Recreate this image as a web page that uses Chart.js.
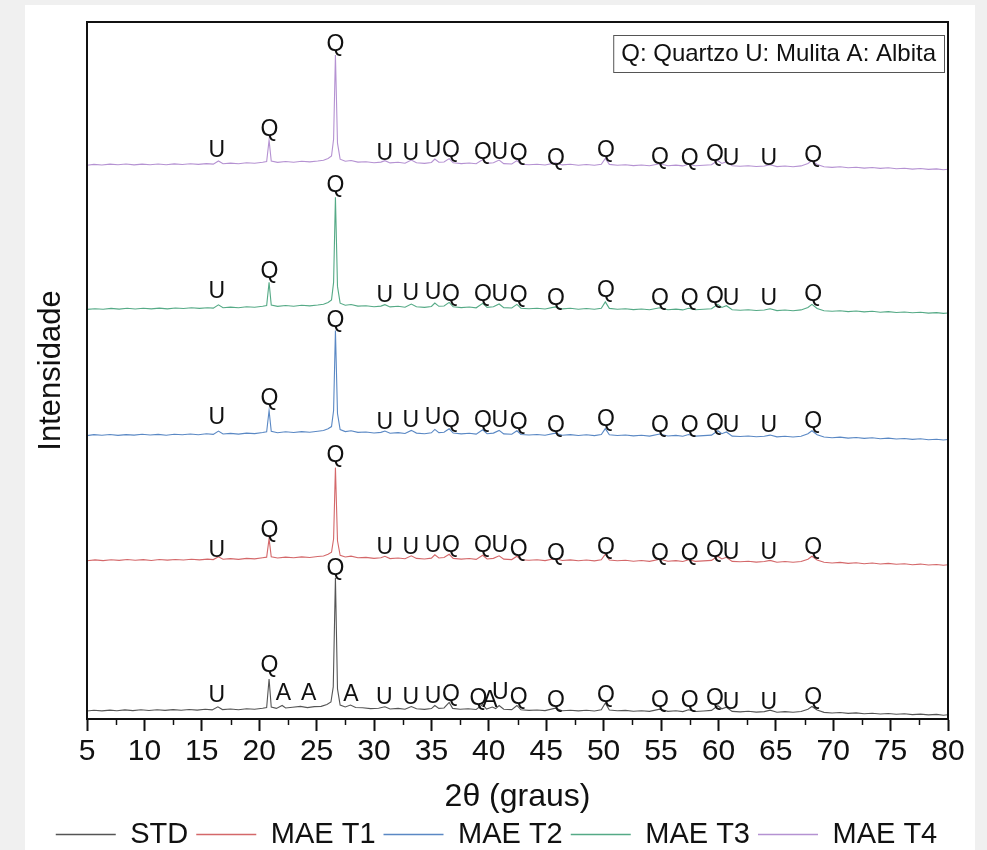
<!DOCTYPE html>
<html>
<head>
<meta charset="utf-8">
<script src="https://cdn.jsdelivr.net/npm/chart.js@4.4.1/dist/chart.umd.min.js"></script>
<style>
  html,body{margin:0;padding:0;background:#f0f0f0;}
  #wrap{position:absolute;left:25px;top:5px;width:950px;height:845px;background:#fff;}
  #xrd{display:block;}
</style>
</head>
<body>
<div id="wrap"><canvas id="xrd" width="950" height="845"></canvas></div>
<script>
/* ── series names / colours ── */
const NAMES  = ['STD','MAE T1','MAE T2','MAE T3','MAE T4'];
const COLORS = ['#555555','#d4686a','#5a88c4','#55aa86','#b592d2'];
const OFFSETS = [8, 158, 283, 409, 553];   // vertical stacking of the patterns

/* ── patterns: [2θ, intensity above own baseline] ── */
const STD = [
[5,0],[5.6,0.8],[6.3,0.1],[7,0.9],[7.6,0.3],[8.3,1.1],[9,0.4],[9.7,1.2],[10.4,0.5],[11.1,1.3],[11.8,0.6],[12.5,1.4],[13.2,0.8],[13.9,1.5],[14.6,0.9],[15.3,1.7],[15.9,1.1],[16.4,4.2],[16.8,1.4],[17.5,2],[18.2,1.3],[18.9,2.3],[19.6,1.8],[20.3,2.8],[20.65,3.5],[20.86,32],[21.05,4],[21.5,2.6],[22.0,5.5],[22.3,3],[22.9,3.8],[23.6,4.6],[24.2,3.4],[24.8,4.4],[25.4,4.6],[25.9,6.5],[26.25,9],[26.45,24],[26.64,133],[26.82,22],[27.05,6],[27.5,4],[27.95,6],[28.4,3.5],[29,3.2],[29.7,2.4],[30.4,2.8],[30.95,4.2],[31.4,2],[32.1,2.6],[32.7,1.8],[33.25,4.5],[33.7,2.2],[34.4,1.6],[35.0,2.4],[35.3,5.5],[35.65,2.6],[36.1,3],[36.55,8.5],[36.85,2.6],[37.5,1.8],[38.2,2.2],[38.9,1.5],[39.47,6.5],[39.8,2],[40.3,4],[40.6,2.4],[40.9,5.5],[41.3,1.8],[42,1.4],[42.45,5.5],[42.8,1.2],[43.5,0.6],[44.2,1],[44.9,0.4],[45.8,2.8],[46.4,0.3],[47.1,0.8],[47.8,0.1],[48.5,0.7],[49.2,0],[49.8,1.2],[50.15,8],[50.5,1],[51.2,0.2],[51.9,0.6],[52.6,-0.3],[53.3,0.3],[54,-0.4],[54.9,1.8],[55.6,-0.4],[56.3,0.2],[56.9,-0.6],[57.4,1.2],[58,-0.5],[58.7,0],[59.4,0.6],[59.95,5.2],[60.3,2.2],[60.7,3.8],[61.2,-0.4],[61.9,-0.9],[62.6,-0.3],[63.3,-1.1],[64,-0.6],[64.5,0.8],[65.1,-1.2],[65.8,-0.6],[66.5,-1.3],[67.2,-0.5],[67.8,1.8],[68.15,4.5],[68.6,1],[69.2,-1.4],[69.9,-2],[70.6,-1.5],[71.3,-2.4],[72,-1.9],[72.7,-2.7],[73.4,-2.2],[74.1,-3],[74.8,-2.5],[75.5,-3.3],[76.2,-2.8],[76.9,-3.6],[77.6,-3.1],[78.3,-3.9],[79,-3.4],[79.6,-4.2],[80,-3.8]
];
const MAE_T1 = [
[5,0],[5.7,0.9],[6.4,0.2],[7.1,1],[7.8,0.4],[8.5,1.2],[9.2,0.5],[9.9,1.1],[10.6,0.3],[11.3,1.2],[12,0.6],[12.7,1.3],[13.4,0.7],[14.1,1.5],[14.8,0.9],[15.5,1.6],[16,1.2],[16.45,4],[16.85,1.5],[17.5,2.1],[18.2,1.4],[18.9,2.4],[19.6,1.9],[20.3,3],[20.65,3.6],[20.86,22],[21.05,4],[21.6,2.8],[22.3,3.6],[23,3],[23.7,3.9],[24.4,3.3],[25.1,4.2],[25.6,4.8],[26.0,6.5],[26.3,8.5],[26.48,22],[26.64,93],[26.82,20],[27.05,5.5],[27.5,3.8],[28,4.6],[28.6,3],[29.3,3.4],[30,2.4],[30.6,3],[30.95,4.5],[31.4,2.2],[32.1,2.8],[32.7,2],[33.25,5],[33.7,2.4],[34.4,1.8],[35,2.6],[35.3,6],[35.65,2.8],[36.1,3.2],[36.55,6.5],[36.9,2.4],[37.6,1.6],[38.3,2.2],[38.9,1.4],[39.47,5.5],[39.85,1.8],[40.4,2.4],[40.9,5],[41.3,1.6],[42,1.2],[42.45,4.5],[42.8,1],[43.5,0.5],[44.2,1],[44.9,0.2],[45.8,2.2],[46.4,0.3],[47.1,0.9],[47.8,0],[48.5,0.7],[49.2,-0.1],[49.8,1],[50.15,6.5],[50.5,0.8],[51.2,0],[51.9,0.5],[52.6,-0.4],[53.3,0.2],[54,-0.6],[54.9,1.5],[55.6,-0.5],[56.3,0.1],[56.9,-0.7],[57.4,1],[58,-0.6],[58.7,-0.1],[59.4,0.4],[59.95,4.5],[60.3,1.8],[60.7,3.5],[61.2,-0.6],[61.9,-1],[62.6,-0.5],[63.3,-1.3],[64,-0.8],[64.5,0.4],[65.1,-1.4],[65.8,-0.8],[66.5,-1.5],[67.2,-0.7],[67.8,1.6],[68.15,4.5],[68.6,0.8],[69.2,-1.5],[69.9,-2.2],[70.6,-1.6],[71.3,-2.6],[72,-2],[72.7,-2.9],[73.4,-2.3],[74.1,-3.2],[74.8,-2.6],[75.5,-3.5],[76.2,-3],[76.9,-3.9],[77.6,-3.3],[78.3,-4.2],[79,-3.7],[79.6,-4.5],[80,-4]
];
const MAE_T2 = [
[5,0],[5.6,1],[6.3,0.3],[7,1.1],[7.7,0.2],[8.4,1],[9.1,0.5],[9.8,1.3],[10.5,0.6],[11.2,1.2],[11.9,0.4],[12.6,1.4],[13.3,0.8],[14,1.6],[14.7,0.9],[15.4,1.8],[16,1.2],[16.45,4.5],[16.85,1.6],[17.5,2.2],[18.2,1.5],[18.9,2.5],[19.6,2],[20.3,3.1],[20.65,3.8],[20.86,25],[21.05,4.2],[21.6,2.9],[22.3,3.8],[23,3.1],[23.7,4],[24.4,3.4],[25.1,4.3],[25.6,5],[26.0,6.8],[26.3,9],[26.48,25],[26.64,105],[26.82,22],[27.05,6],[27.5,4],[28,4.8],[28.6,3.2],[29.3,3.6],[30,2.6],[30.6,3.2],[30.95,4.6],[31.4,2.4],[32.1,3],[32.7,2.1],[33.25,5.2],[33.7,2.5],[34.4,1.9],[35,2.8],[35.3,6.2],[35.65,3],[36.1,3.3],[36.55,6.8],[36.9,2.5],[37.6,1.7],[38.3,2.3],[38.9,1.5],[39.47,5.8],[39.85,1.9],[40.4,2.5],[40.9,5.2],[41.3,1.7],[42,1.3],[42.45,4.8],[42.8,1.1],[43.5,0.6],[44.2,1.1],[44.9,0.3],[45.8,2.4],[46.4,0.4],[47.1,1],[47.8,0.1],[48.5,0.8],[49.2,0],[49.8,1.1],[50.15,7],[50.5,0.9],[51.2,0.1],[51.9,0.6],[52.6,-0.3],[53.3,0.3],[54,-0.5],[54.9,1.6],[55.6,-0.4],[56.3,0.2],[56.9,-0.6],[57.4,1.1],[58,-0.5],[58.7,0],[59.4,0.5],[59.95,4.8],[60.3,1.9],[60.7,3.6],[61.2,-0.5],[61.9,-0.9],[62.6,-0.4],[63.3,-1.2],[64,-0.7],[64.5,0.5],[65.1,-1.3],[65.8,-0.7],[66.5,-1.4],[67.2,-0.6],[67.8,1.8],[68.15,4.8],[68.6,0.9],[69.2,-1.4],[69.9,-2.1],[70.6,-1.5],[71.3,-2.5],[72,-1.9],[72.7,-2.8],[73.4,-2.2],[74.1,-3.1],[74.8,-2.5],[75.5,-3.4],[76.2,-2.9],[76.9,-3.8],[77.6,-3.2],[78.3,-4.1],[79,-3.6],[79.6,-4.4],[80,-3.9]
];
const MAE_T3 = [
[5,0],[5.7,0.7],[6.4,0.1],[7.1,1],[7.8,0.3],[8.5,1.1],[9.2,0.4],[9.9,1.2],[10.6,0.5],[11.3,1.3],[12,0.5],[12.7,1.4],[13.4,0.9],[14.1,1.6],[14.8,1],[15.5,1.7],[16,1.3],[16.45,4.6],[16.85,1.7],[17.5,2.3],[18.2,1.6],[18.9,2.6],[19.6,2.1],[20.3,3.2],[20.65,3.9],[20.86,27],[21.05,4.3],[21.6,3],[22.3,3.9],[23,3.2],[23.7,4.1],[24.4,3.5],[25.1,4.4],[25.6,5.2],[26.0,7],[26.3,9.5],[26.48,27],[26.64,112],[26.82,23],[27.05,6.2],[27.5,4.1],[28,4.9],[28.6,3.3],[29.3,3.7],[30,2.7],[30.6,3.3],[30.95,4.7],[31.4,2.5],[32.1,3.1],[32.7,2.2],[33.25,5.3],[33.7,2.6],[34.4,2],[35,2.9],[35.3,6.4],[35.65,3.1],[36.1,3.4],[36.55,7],[36.9,2.6],[37.6,1.8],[38.3,2.4],[38.9,1.6],[39.47,6],[39.85,2],[40.4,2.6],[40.9,5.4],[41.3,1.8],[42,1.4],[42.45,5],[42.8,1.2],[43.5,0.7],[44.2,1.2],[44.9,0.4],[45.8,2.5],[46.4,0.5],[47.1,1.1],[47.8,0.2],[48.5,0.9],[49.2,0.1],[49.8,1.2],[50.15,7.5],[50.5,1],[51.2,0.2],[51.9,0.7],[52.6,-0.2],[53.3,0.4],[54,-0.4],[54.9,1.7],[55.6,-0.3],[56.3,0.3],[56.9,-0.5],[57.4,1.2],[58,-0.4],[58.7,0.1],[59.4,0.6],[59.95,5],[60.3,2],[60.7,3.7],[61.2,-0.4],[61.9,-0.8],[62.6,-0.3],[63.3,-1.1],[64,-0.6],[64.5,0.6],[65.1,-1.2],[65.8,-0.6],[66.5,-1.3],[67.2,-0.5],[67.8,1.9],[68.15,5],[68.6,1],[69.2,-1.3],[69.9,-1.9],[70.6,-1.3],[71.3,-2.2],[72,-1.6],[72.7,-2.5],[73.4,-1.9],[74.1,-2.8],[74.8,-2.2],[75.5,-3.1],[76.2,-2.6],[76.9,-3.4],[77.6,-2.9],[78.3,-3.7],[79,-3.2],[79.6,-4],[80,-3.6]
];
const MAE_T4 = [
[5,0],[5.6,0.8],[6.3,0.2],[7,1.1],[7.7,0.4],[8.4,1.2],[9.1,0.3],[9.8,1.1],[10.5,0.4],[11.2,1.2],[11.9,0.5],[12.6,1.3],[13.3,0.7],[14,1.5],[14.7,0.8],[15.4,1.6],[16,1.1],[16.45,4.2],[16.85,1.5],[17.5,2.1],[18.2,1.4],[18.9,2.4],[19.6,1.9],[20.3,3],[20.65,3.7],[20.86,25],[21.05,4.1],[21.6,2.8],[22.3,3.7],[23,3],[23.7,3.9],[24.4,3.3],[25.1,4.2],[25.6,5],[26.0,6.8],[26.3,9.2],[26.48,26],[26.64,110],[26.82,22],[27.05,6],[27.5,4],[28,4.7],[28.6,3.1],[29.3,3.5],[30,2.5],[30.6,3.1],[30.95,4.5],[31.4,2.3],[32.1,2.9],[32.7,2],[33.25,5.1],[33.7,2.4],[34.4,1.8],[35,2.7],[35.3,6.1],[35.65,2.9],[36.1,3.2],[36.55,6.6],[36.9,2.4],[37.6,1.6],[38.3,2.2],[38.9,1.4],[39.47,5.6],[39.85,1.8],[40.4,2.4],[40.9,5.1],[41.3,1.6],[42,1.2],[42.45,4.6],[42.8,1],[43.5,0.5],[44.2,1],[44.9,0.2],[45.8,2.3],[46.4,0.3],[47.1,0.9],[47.8,0],[48.5,0.7],[49.2,-0.1],[49.8,1],[50.15,6.8],[50.5,0.8],[51.2,0],[51.9,0.5],[52.6,-0.4],[53.3,0.2],[54,-0.6],[54.9,1.5],[55.6,-0.5],[56.3,0.1],[56.9,-0.7],[57.4,1],[58,-0.6],[58.7,-0.1],[59.4,0.4],[59.95,4.6],[60.3,1.8],[60.7,3.5],[61.2,-0.6],[61.9,-1],[62.6,-0.5],[63.3,-1.3],[64,-0.8],[64.5,0.4],[65.1,-1.4],[65.8,-0.8],[66.5,-1.5],[67.2,-0.7],[67.8,1.7],[68.15,4.6],[68.6,0.8],[69.2,-1.5],[69.9,-2.2],[70.6,-1.6],[71.3,-2.6],[72,-2],[72.7,-2.9],[73.4,-2.3],[74.1,-3.2],[74.8,-2.6],[75.5,-3.5],[76.2,-3],[76.9,-3.9],[77.6,-3.3],[78.3,-4.2],[79,-3.7],[79.6,-4.5],[80,-4]
];
const SERIES = [STD, MAE_T1, MAE_T2, MAE_T3, MAE_T4];

/* ── phase marks: [2θ, letter, height of letter above own baseline] ── */
const MARKS_STD = [
[16.3,'U',15],[20.9,'Q',45],[22.1,'A',17],[24.3,'A',17],[26.65,'Q',142],[28.0,'A',16],[30.9,'U',13],[33.2,'U',13],[35.15,'U',14],[36.7,'Q',16],[39.1,'Q',12],[40.1,'A',10],[41.0,'U',18],[42.6,'Q',13],[45.85,'Q',10],[50.2,'Q',15],[54.9,'Q',10],[57.5,'Q',10],[59.7,'Q',12],[61.1,'U',8],[64.4,'U',8],[68.25,'Q',13]
];
const MARK_POS = [16.3,20.9,26.65,30.95,33.2,35.15,36.7,39.5,40.95,42.6,45.85,50.2,54.9,57.5,59.7,61.1,64.4,68.25];
const MARK_TXT = ['U','Q','Q','U','U','U','Q','Q','U','Q','Q','Q','Q','Q','Q','U','U','Q'];
const MARK_H_T1 = [10,30,105,13,13,15,15,15,15,11,7,13,7,7,10,8,8,13];
const MARK_H_T2 = [18,37,115,13,15,18,15,15,15,13,10,16,10,10,12,10,10,14];
const MARK_H_T3 = [18,38,124,14,16,17,15,15,15,14,11,19,11,11,13,11,11,15];
const MARK_H_T4 = [15,35,120,12,12,15,15,13,13,12,7,15,8,7,11,7,7,10];
const MARK_H = [null, MARK_H_T1, MARK_H_T2, MARK_H_T3, MARK_H_T4];

const X_TICKS = [5,10,15,20,25,30,35,40,45,50,55,60,65,70,75,80];
const PHASE_KEY = 'Q: Quartzo U: Mulita A: Albita';

const FONT = '"Liberation Sans", Arial, sans-serif';

/* ── plugin: frame, minor ticks, phase letters, key box ── */
const decor = {
  id:'decor',
  afterDatasetsDraw(chart){
    const {ctx, chartArea:a, scales:{x,y}} = chart;
    ctx.save();
    // phase letters
    ctx.fillStyle = '#111';
    ctx.font = '23px ' + FONT;
    ctx.textAlign = 'center';
    ctx.textBaseline = 'middle';
    MARKS_STD.forEach(m => ctx.fillText(m[1], x.getPixelForValue(m[0]), y.getPixelForValue(OFFSETS[0] + m[2])));
    for (let s = 1; s < 5; s++) {
      MARK_POS.forEach((p,i) => ctx.fillText(MARK_TXT[i], x.getPixelForValue(p), y.getPixelForValue(OFFSETS[s] + MARK_H[s][i])));
    }
    // key box
    ctx.font = '24px ' + FONT;
    const tw = ctx.measureText(PHASE_KEY).width;
    const bx = a.right - 4 - (tw + 16), by = a.top + 13;
    ctx.fillStyle = '#fff';
    ctx.fillRect(bx, by, tw + 16, 37);
    ctx.strokeStyle = '#555'; ctx.lineWidth = 1;
    ctx.strokeRect(bx + 0.5, by + 0.5, tw + 16, 37);
    ctx.fillStyle = '#111'; ctx.textAlign = 'left';
    ctx.fillText(PHASE_KEY, bx + 8, by + 19);
    // frame
    ctx.strokeStyle = '#111'; ctx.lineWidth = 2;
    ctx.strokeRect(a.left, a.top, a.right - a.left, a.bottom - a.top);
    // minor ticks
    ctx.lineWidth = 1.5;
    for (let i = 0; i < X_TICKS.length - 1; i++) {
      const px = Math.round(x.getPixelForValue((X_TICKS[i] + X_TICKS[i+1]) / 2)) + 0.5;
      ctx.beginPath(); ctx.moveTo(px, a.bottom); ctx.lineTo(px, a.bottom + 6); ctx.stroke();
    }
    ctx.restore();
  }
};

new Chart(document.getElementById('xrd'), {
  type:'line',
  data:{ datasets: SERIES.map((s,i) => ({
    label: NAMES[i],
    data: s.map(p => ({x:p[0], y:p[1] + OFFSETS[i]})),
    borderColor: COLORS[i], backgroundColor: COLORS[i],
    pointBorderColor: COLORS[i], pointBackgroundColor: COLORS[i], pointBorderWidth: 1.5,
    borderWidth: 1.1, pointRadius: 0, tension: 0, fill: false
  }))},
  options:{
    responsive:false, animation:false,
    layout:{ padding:{ left:20, top:17, right:27, bottom:-9 } },
    plugins:{
      tooltip:{enabled:false},
      legend:{ position:'bottom', labels:{
        usePointStyle:true, pointStyle:'line', pointStyleWidth:60,
        color:'#111', font:{family:FONT, size:29}, padding:8
      }}
    },
    scales:{
      x:{
        type:'linear', min:5, max:80,
        afterBuildTicks: sc => { sc.ticks = X_TICKS.map(v => ({value:v})); },
        afterFit: sc => { sc.height = 93; },
        grid:{ drawOnChartArea:false, drawTicks:true, tickLength:12, tickWidth:2, tickColor:'#111' },
        border:{ display:true, color:'#111', width:2 },
        ticks:{ color:'#111', font:{family:FONT, size:30}, padding:3, maxRotation:0, autoSkip:false },
        title:{ display:true, text:'2θ (graus)', color:'#111', font:{family:FONT, size:32}, padding:{top:0, bottom:-4} }
      },
      y:{
        min:0, max:696,
        afterFit: sc => { sc.width = 42; },
        grid:{ display:false }, border:{ display:false },
        ticks:{ display:false },
        title:{ display:true, text:'Intensidade', color:'#111', font:{family:FONT, size:31}, padding:{top:-12, bottom:0} }
      }
    }
  },
  plugins:[decor]
});
</script>
</body>
</html>
